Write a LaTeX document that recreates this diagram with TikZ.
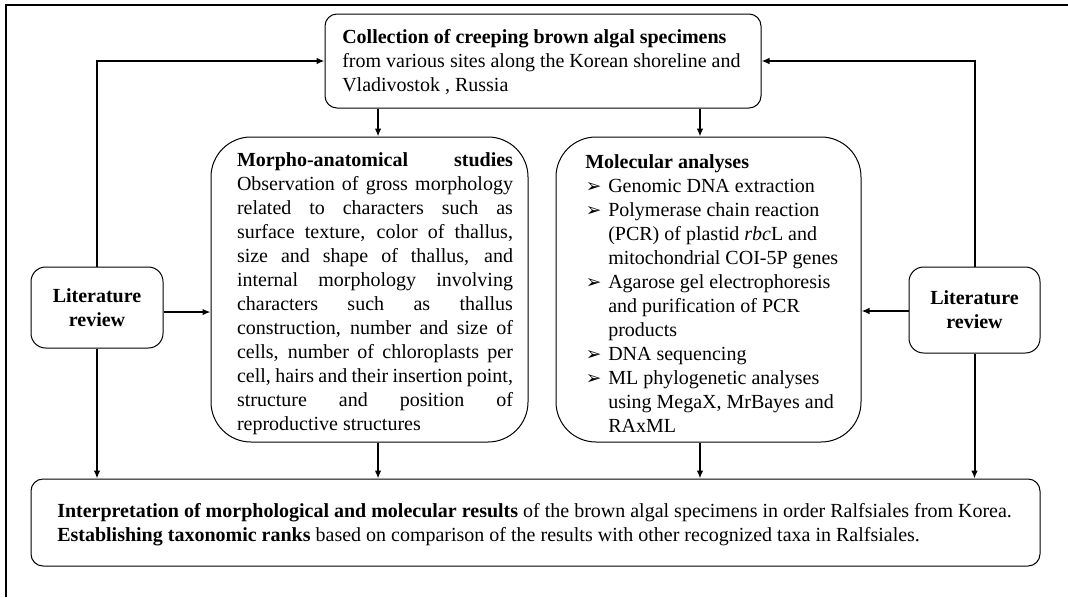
\documentclass[tikz,border=0pt]{standalone}
\usepackage{fontspec}
\setmainfont{Liberation Serif}
\newfontfamily\dejavu{DejaVu Sans}
\usetikzlibrary{arrows.meta}
\newcommand\jline[1]{\makebox[207pt][s]{#1}}
\newcommand\bul{\makebox[17.25pt][l]{\hspace{0.5pt}{\dejavu\fontsize{14pt}{14pt}\selectfont ➢}}}
\newcommand\ind{\hspace*{17.25pt}}
\begin{document}
\begin{tikzpicture}[x=0.75pt,y=-0.75pt,
  mainfont/.style={font=\fontsize{15pt}{18pt}\selectfont},
  box/.style={draw, line width=0.75pt, rounded corners=9pt, inner sep=0pt, mainfont},
  bigbox/.style={draw, line width=0.75pt, rounded corners=30pt, inner sep=0pt},
  txt/.style={inner sep=0pt, mainfont},
  conn/.style={line width=1.5pt, -{Latex[length=6pt,width=5pt]}},
  frame/.style={line width=1.5pt}]
\useasboundingbox (0,0) rectangle (1068,597);
\draw[frame] (6,597) -- (6,5) -- (1068,5);

% boxes
\node[box, minimum width=327pt, minimum height=70.5pt] (top) at (543,61) {};
\node[bigbox, minimum width=237.75pt, minimum height=228.75pt] (morpho) at (369.5,289.5) {};
\node[bigbox, minimum width=228.75pt, minimum height=228.75pt] (molec) at (708.5,289.5) {};
\node[box, rounded corners=11pt, minimum width=99pt, minimum height=60.75pt, align=center] (litL) at (97,307.5)
 {\textbf{Literature}\\\textbf{review}};
\node[box, rounded corners=11pt, minimum width=98.25pt, minimum height=64.5pt, align=center] (litR) at (974.5,310)
 {\textbf{Literature}\\\textbf{review}};
\node[box, minimum width=756.75pt, minimum height=65.25pt] (bottom) at (535.5,522.5) {};

% texts
\node[txt, align=left, anchor=west] (toptxt) at (342,62)
 {\textbf{Collection of creeping brown algal specimens}\\from various sites along the Korean shoreline and\\Vladivostok , Russia};
\node[txt, align=left, anchor=west] (bottomtxt) at (57,525)
 {\textbf{Interpretation of morphological and molecular results} of the brown algal specimens in order Ralfsiales from Korea.\\\textbf{Establishing taxonomic ranks} based on comparison of the results with other recognized taxa in Ralfsiales.};
\node[txt, align=left] (morphotxt) at (375,294) {%
\jline{\textbf{Morpho-anatomical studies}}\\
\jline{Observation of gross morphology}\\
\jline{related to characters such as}\\
\jline{surface texture, color of thallus,}\\
\jline{size and shape of thallus, and}\\
\jline{internal morphology involving}\\
\jline{characters such as thallus}\\
\jline{construction, number and size of}\\
\jline{cells, number of chloroplasts per}\\
\jline{cell, hairs and their insertion point,}\\
\jline{structure and position of}\\
reproductive structures};
\node[txt, align=left, anchor=west] (molectxt) at (585,294) {%
\textbf{Molecular analyses}\\
\bul Genomic DNA extraction\\
\bul Polymerase chain reaction\\
\ind (PCR) of plastid \textit{rbc}L and\\
\ind mitochondrial COI-5P genes\\
\bul Agarose gel electrophoresis\\
\ind and purification of PCR\\
\ind products\\
\bul DNA sequencing\\
\bul ML phylogenetic analyses\\
\ind using MegaX, MrBayes and\\
\ind RAxML};

% helper coordinates
\coordinate (mA) at ([xshift=6.4pt]morpho.north);
\coordinate (mB) at ([xshift=6.4pt]morpho.south);
\coordinate (cA) at ([xshift=-6.4pt]molec.north);
\coordinate (cB) at ([xshift=-6.4pt]molec.south);
\coordinate (lA) at ([yshift=-3.4pt]litL.east);
\coordinate (rA) at ([yshift=-0.75pt]litR.west);

% connectors
\draw[conn] (litL.north) |- (top.west);
\draw[conn] (litR.north) |- (top.east);
\draw[conn] (top.south -| mA) -- (mA);
\draw[conn] (top.south -| cA) -- (cA);
\draw[conn] (lA) -- (lA -| morpho.west);
\draw[conn] (rA) -- (rA -| molec.east);
\draw[conn] (litL.south) -- (litL.south |- bottom.north);
\draw[conn] (mB) -- (mB |- bottom.north);
\draw[conn] (cB) -- (cB |- bottom.north);
\draw[conn] (litR.south) -- (litR.south |- bottom.north);
\end{tikzpicture}
\end{document}
